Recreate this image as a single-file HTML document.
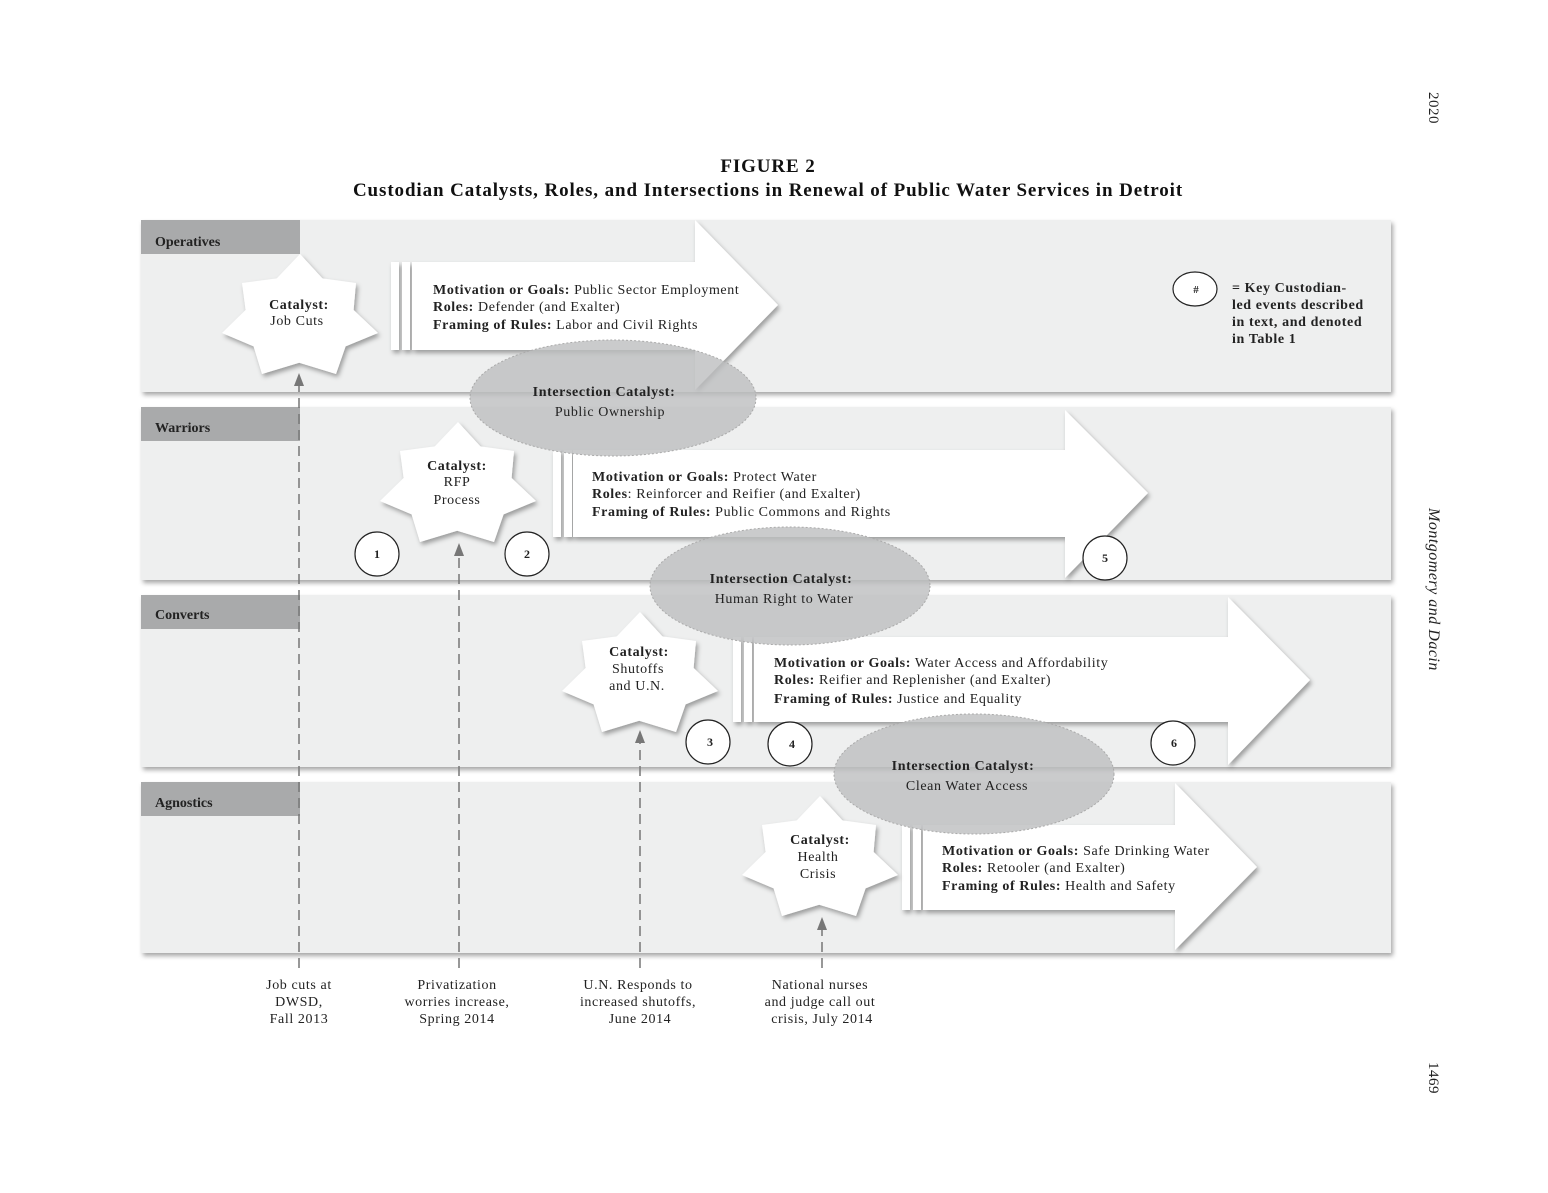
<!DOCTYPE html>
<html><head><meta charset="utf-8"><style>
body{margin:0;background:#fff;width:1548px;height:1188px;overflow:hidden}
svg{font-family:"Liberation Serif",serif}
.b{font-size:14px;letter-spacing:0.6px}
</style></head><body>
<svg width="1548" height="1188" viewBox="0 0 1548 1188">
<defs>
<filter id="sh" x="-10%" y="-10%" width="130%" height="130%"><feDropShadow dx="2" dy="3" stdDeviation="2.5" flood-color="#000" flood-opacity="0.35"/></filter>
</defs>
<g font-weight="bold" text-anchor="middle" fill="#111" font-size="19" letter-spacing="0.9">
<text x="768" y="172">FIGURE 2</text>
<text x="768" y="196">Custodian Catalysts, Roles, and Intersections in Renewal of Public Water Services in Detroit</text>
</g>
<g filter="url(#sh)">
<rect x="141" y="220" width="1250" height="172" fill="#eeefef"/>
<rect x="141" y="407" width="1250" height="173" fill="#eeefef"/>
<rect x="141" y="595" width="1250" height="172" fill="#eeefef"/>
<rect x="141" y="782" width="1250" height="171" fill="#eeefef"/>
</g>
<g font-size="14" font-weight="bold" fill="#222">
<rect x="141" y="220" width="159" height="34" fill="#a9aaab"/><text x="155" y="246">Operatives</text>
<rect x="141" y="407" width="159" height="34" fill="#a9aaab"/><text x="155" y="432">Warriors</text>
<rect x="141" y="595" width="159" height="34" fill="#a9aaab"/><text x="155" y="619">Converts</text>
<rect x="141" y="782" width="159" height="34" fill="#a9aaab"/><text x="155" y="807">Agnostics</text>
</g>
<g stroke="#777" stroke-width="1.5" stroke-dasharray="10,6" fill="#777">
<line x1="299" y1="968" x2="299" y2="385"/><line x1="459" y1="968" x2="459" y2="555"/>
<line x1="640" y1="968" x2="640" y2="742"/><line x1="822" y1="968" x2="822" y2="928"/>
</g>
<g fill="#777">
<polygon points="299,373 294,386 304,386"/><polygon points="459,543 454,556 464,556"/>
<polygon points="640,730 635,743 645,743"/><polygon points="822,917 817,930 827,930"/>
</g>
<g fill="#fff" filter="url(#sh)">
<polygon points="412,262 695,262 695,220 778,305 695,390 695,350 412,350"/>
<rect x="391" y="262" width="8" height="88"/><rect x="402" y="262" width="8" height="88"/>
<polygon points="573,450 1065,450 1065,410 1148,493 1065,578 1065,537 573,537"/>
<rect x="553" y="450" width="8" height="87"/><rect x="564" y="450" width="8" height="87"/>
<polygon points="754,637 1228,637 1228,597 1310,680 1228,765 1228,722 754,722"/>
<rect x="733" y="637" width="8" height="85"/><rect x="744" y="637" width="8" height="85"/>
<polygon points="923,825 1175,825 1175,783 1257,867 1175,950 1175,910 923,910"/>
<rect x="902" y="825" width="8" height="85"/><rect x="913" y="825" width="8" height="85"/>
</g>
<g fill="#fff" filter="url(#sh)" id="stars"></g>
<g class="b" fill="#222">
<text x="433" y="294"><tspan font-weight="bold">Motivation or Goals:</tspan> Public Sector Employment</text>
<text x="433" y="311"><tspan font-weight="bold">Roles:</tspan> Defender (and Exalter)</text>
<text x="433" y="329"><tspan font-weight="bold">Framing of Rules:</tspan> Labor and Civil Rights</text>
<text x="592" y="481"><tspan font-weight="bold">Motivation or Goals:</tspan> Protect Water</text>
<text x="592" y="498"><tspan font-weight="bold">Roles</tspan>: Reinforcer and Reifier (and Exalter)</text>
<text x="592" y="516"><tspan font-weight="bold">Framing of Rules:</tspan> Public Commons and Rights</text>
<text x="774" y="667"><tspan font-weight="bold">Motivation or Goals:</tspan> Water Access and Affordability</text>
<text x="774" y="684"><tspan font-weight="bold">Roles:</tspan> Reifier and Replenisher (and Exalter)</text>
<text x="774" y="703"><tspan font-weight="bold">Framing of Rules:</tspan> Justice and Equality</text>
<text x="942" y="855"><tspan font-weight="bold">Motivation or Goals:</tspan> Safe Drinking Water</text>
<text x="942" y="872"><tspan font-weight="bold">Roles:</tspan> Retooler (and Exalter)</text>
<text x="942" y="890"><tspan font-weight="bold">Framing of Rules:</tspan> Health and Safety</text>
</g>
<g class="b" fill="#222" text-anchor="middle">
<text x="299" y="309" font-weight="bold">Catalyst:</text><text x="297" y="325">Job Cuts</text>
<text x="457" y="470" font-weight="bold">Catalyst:</text><text x="457" y="486">RFP</text><text x="457" y="504">Process</text>
<text x="639" y="656" font-weight="bold">Catalyst:</text><text x="638" y="673">Shutoffs</text><text x="637" y="690">and U.N.</text>
<text x="820" y="844" font-weight="bold">Catalyst:</text><text x="818" y="861">Health</text><text x="818" y="878">Crisis</text>
</g>
<g fill="#bdbebf" fill-opacity="0.8" stroke="#aaa" stroke-dasharray="2,2">
<ellipse cx="613" cy="398" rx="143" ry="58"/><ellipse cx="790" cy="586" rx="140" ry="59"/><ellipse cx="974" cy="774" rx="140" ry="60"/>
</g>
<g class="b" fill="#222" text-anchor="middle">
<text x="604" y="396" font-weight="bold">Intersection Catalyst:</text><text x="610" y="416">Public Ownership</text>
<text x="781" y="583" font-weight="bold">Intersection Catalyst:</text><text x="784" y="603">Human Right to Water</text>
<text x="963" y="770" font-weight="bold">Intersection Catalyst:</text><text x="967" y="790">Clean Water Access</text>
</g>
<g fill="#fff" stroke="#222" stroke-width="1.2" font-size="12" font-weight="bold" text-anchor="middle">
<g><circle cx="377" cy="554" r="22"/><text x="377" y="558" stroke="none" fill="#222">1</text></g>
<g><circle cx="527" cy="554" r="22"/><text x="527" y="558" stroke="none" fill="#222">2</text></g>
<g><circle cx="1105" cy="558" r="22"/><text x="1105" y="562" stroke="none" fill="#222">5</text></g>
<g><circle cx="708" cy="742" r="22"/><text x="710" y="746" stroke="none" fill="#222">3</text></g>
<g><circle cx="790" cy="744" r="22"/><text x="792" y="748" stroke="none" fill="#222">4</text></g>
<g><circle cx="1173" cy="743" r="22"/><text x="1174" y="747" stroke="none" fill="#222">6</text></g>
<g><ellipse cx="1195" cy="289" rx="22" ry="17"/><text x="1196" y="293" stroke="none" fill="#222" font-size="11">#</text></g>
</g>
<g class="b" font-weight="bold" fill="#222">
<text x="1232" y="292">= Key Custodian-</text><text x="1232" y="309">led events described</text>
<text x="1232" y="326">in text, and denoted</text><text x="1232" y="343">in Table 1</text>
</g>
<g class="b" fill="#222" text-anchor="middle">
<text x="299" y="989">Job cuts at</text><text x="299" y="1006">DWSD,</text><text x="299" y="1023">Fall 2013</text>
<text x="457" y="989">Privatization</text><text x="457" y="1006">worries increase,</text><text x="457" y="1023">Spring 2014</text>
<text x="638" y="989">U.N. Responds to</text><text x="638" y="1006">increased shutoffs,</text><text x="640" y="1023">June 2014</text>
<text x="820" y="989">National nurses</text><text x="820" y="1006">and judge call out</text><text x="822" y="1023">crisis, July 2014</text>
</g>
<g font-size="15" fill="#222" letter-spacing="0.5">
<text transform="translate(1429,92) rotate(90)">2020</text>
<text transform="translate(1429,508) rotate(90)" font-style="italic" font-size="16">Montgomery and Dacin</text>
<text transform="translate(1429,1062) rotate(90)">1469</text>
</g>
</svg>
<script>
const starCenters=[[300,318],[458,486],[640,676],[820,860]];
const tips=[[0,-64],[56,-35],[78,15],[36,56],[-38,56],[-78,15],[-58,-35]];
const g=document.getElementById('stars');
starCenters.forEach(function(c){
  let pts=[];
  for(let k=0;k<tips.length;k++){
    const a=tips[k], b=tips[(k+1)%tips.length];
    pts.push((c[0]+a[0])+','+(c[1]+a[1]));
    pts.push((c[0]+(a[0]+b[0])/2*0.8).toFixed(1)+','+(c[1]+(a[1]+b[1])/2*0.8).toFixed(1));
  }
  const p=document.createElementNS('http://www.w3.org/2000/svg','polygon');
  p.setAttribute('points',pts.join(' '));
  
  
  g.appendChild(p);
});
</script>
</body></html>
